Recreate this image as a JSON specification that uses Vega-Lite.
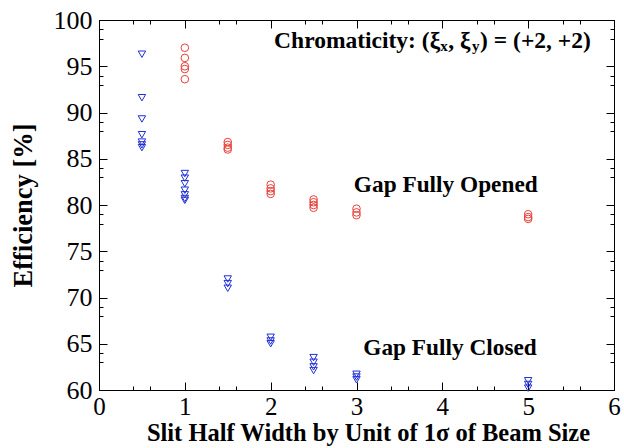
{
  "$schema": "https://vega.github.io/schema/vega-lite/v6.json",
  "width": 515,
  "height": 370,
  "autosize": "none",
  "padding": {"left": 99, "top": 20, "right": 10, "bottom": 58},
  "background": "white",
  "config": {"view": {"stroke": "black", "strokeWidth": 1}},
  "datasets": {
    "points": [
      {"series": "Gap Fully Closed", "x": 0.5, "eff": 96.3},
      {"series": "Gap Fully Closed", "x": 0.5, "eff": 91.6},
      {"series": "Gap Fully Closed", "x": 0.5, "eff": 89.3},
      {"series": "Gap Fully Closed", "x": 0.5, "eff": 87.6},
      {"series": "Gap Fully Closed", "x": 0.5, "eff": 86.8},
      {"series": "Gap Fully Closed", "x": 0.5, "eff": 86.5},
      {"series": "Gap Fully Closed", "x": 0.5, "eff": 86.2},
      {"series": "Gap Fully Closed", "x": 1, "eff": 83.4},
      {"series": "Gap Fully Closed", "x": 1, "eff": 82.9},
      {"series": "Gap Fully Closed", "x": 1, "eff": 82.3},
      {"series": "Gap Fully Closed", "x": 1, "eff": 81.6},
      {"series": "Gap Fully Closed", "x": 1, "eff": 81.1},
      {"series": "Gap Fully Closed", "x": 1, "eff": 80.7},
      {"series": "Gap Fully Closed", "x": 1, "eff": 80.5},
      {"series": "Gap Fully Closed", "x": 1.5, "eff": 72.0},
      {"series": "Gap Fully Closed", "x": 1.5, "eff": 71.5},
      {"series": "Gap Fully Closed", "x": 1.5, "eff": 71.0},
      {"series": "Gap Fully Closed", "x": 2, "eff": 65.7},
      {"series": "Gap Fully Closed", "x": 2, "eff": 65.3},
      {"series": "Gap Fully Closed", "x": 2, "eff": 65.0},
      {"series": "Gap Fully Closed", "x": 2.5, "eff": 63.5},
      {"series": "Gap Fully Closed", "x": 2.5, "eff": 63.0},
      {"series": "Gap Fully Closed", "x": 2.5, "eff": 62.5},
      {"series": "Gap Fully Closed", "x": 2.5, "eff": 62.1},
      {"series": "Gap Fully Closed", "x": 3, "eff": 61.7},
      {"series": "Gap Fully Closed", "x": 3, "eff": 61.4},
      {"series": "Gap Fully Closed", "x": 3, "eff": 61.1},
      {"series": "Gap Fully Closed", "x": 5, "eff": 61.0},
      {"series": "Gap Fully Closed", "x": 5, "eff": 60.6},
      {"series": "Gap Fully Closed", "x": 5, "eff": 60.2},
      {"series": "Gap Fully Opened", "x": 1, "eff": 97.0},
      {"series": "Gap Fully Opened", "x": 1, "eff": 95.9},
      {"series": "Gap Fully Opened", "x": 1, "eff": 95.0},
      {"series": "Gap Fully Opened", "x": 1, "eff": 94.7},
      {"series": "Gap Fully Opened", "x": 1, "eff": 93.6},
      {"series": "Gap Fully Opened", "x": 1.5, "eff": 86.8},
      {"series": "Gap Fully Opened", "x": 1.5, "eff": 86.5},
      {"series": "Gap Fully Opened", "x": 1.5, "eff": 86.2},
      {"series": "Gap Fully Opened", "x": 1.5, "eff": 86.0},
      {"series": "Gap Fully Opened", "x": 2, "eff": 82.2},
      {"series": "Gap Fully Opened", "x": 2, "eff": 81.8},
      {"series": "Gap Fully Opened", "x": 2, "eff": 81.5},
      {"series": "Gap Fully Opened", "x": 2, "eff": 81.2},
      {"series": "Gap Fully Opened", "x": 2.5, "eff": 80.6},
      {"series": "Gap Fully Opened", "x": 2.5, "eff": 80.3},
      {"series": "Gap Fully Opened", "x": 2.5, "eff": 80.0},
      {"series": "Gap Fully Opened", "x": 2.5, "eff": 79.7},
      {"series": "Gap Fully Opened", "x": 3, "eff": 79.6},
      {"series": "Gap Fully Opened", "x": 3, "eff": 79.2},
      {"series": "Gap Fully Opened", "x": 3, "eff": 78.9},
      {"series": "Gap Fully Opened", "x": 5, "eff": 79.0},
      {"series": "Gap Fully Opened", "x": 5, "eff": 78.7},
      {"series": "Gap Fully Opened", "x": 5, "eff": 78.5}
    ],
    "labels": [
      {"label": "Gap Fully Opened", "x": 4.04, "eff": 81.4},
      {"label": "Gap Fully Closed", "x": 4.09, "eff": 63.8}
    ],
    "chroma": [
      {"label": "Chromaticity: (ξ", "x": 2.04, "eff": 96.97},
      {"label": ", ξ", "x": 4.07, "eff": 96.97},
      {"label": ") = (+2, +2)", "x": 4.44, "eff": 96.97}
    ],
    "subs": [
      {"label": "x", "x": 3.975, "eff": 96.6},
      {"label": "y", "x": 4.345, "eff": 96.6}
    ]
  },
  "resolve": {"axis": {"x": "independent", "y": "independent"}},
  "layer": [
    {
      "data": {"name": "points"},
      "transform": [{"filter": "datum.series === 'Gap Fully Closed'"}],
      "mark": {"type": "point", "shape": "triangle-down", "filled": false, "color": "#1f2fd6", "strokeWidth": 1, "size": 55, "opacity": 1},
      "encoding": {
        "x": {
          "field": "x", "type": "quantitative",
          "scale": {"domain": [0, 6], "nice": false, "zero": false},
          "axis": {
            "orient": "bottom", "offset": 0, "grid": false,
            "values": [0, 0.4, 0.6, 1, 1.4, 1.6, 2, 2.4, 2.6, 3, 3.4, 3.6, 4, 4.4, 4.6, 5, 5.4, 5.6, 6],
            "format": ".0f",
            "labelExpr": "datum.value % 1 === 0 ? datum.label : ''",
            "tickSize": {"condition": {"test": "datum.value % 1 === 0", "value": -8}, "value": -4},
            "tickColor": "black", "domainColor": "black",
            "labelFont": "Liberation Serif", "labelFontSize": 25, "labelColor": "black", "labelPadding": 12,
            "labelFlush": false,
            "title": "Slit Half Width by Unit of 1σ of Beam Size",
            "titleFont": "Liberation Serif", "titleFontSize": 24.5, "titleFontWeight": "bold", "titleColor": "black", "titlePadding": 2,
            "titleX": 269, "titleAlign": "center"
          }
        },
        "y": {
          "field": "eff", "type": "quantitative",
          "scale": {"domain": [60, 100], "nice": false, "zero": false},
          "axis": {
            "orient": "left", "offset": 0, "grid": false,
            "values": [60, 63, 64, 65, 68, 69, 70, 73, 74, 75, 78, 79, 80, 83, 84, 85, 88, 89, 90, 93, 94, 95, 98, 99, 100],
            "format": ".0f",
            "labelExpr": "datum.value % 5 === 0 ? datum.label : ''",
            "tickSize": {"condition": {"test": "datum.value % 5 === 0", "value": -8}, "value": -4},
            "tickColor": "black", "domainColor": "black",
            "labelFont": "Liberation Serif", "labelFontSize": 26, "labelColor": "black", "labelPadding": 15,
            "labelFlush": false,
            "title": "Efficiency [%]",
            "titleFont": "Liberation Serif", "titleFontSize": 26.5, "titleFontWeight": "bold", "titleColor": "black", "titlePadding": 16
          }
        }
      }
    },
    {
      "data": {"name": "points"},
      "transform": [{"filter": "datum.series === 'Gap Fully Opened'"}],
      "mark": {"type": "point", "shape": "circle", "filled": false, "color": "#e8413c", "strokeWidth": 1, "size": 58, "opacity": 1},
      "encoding": {
        "x": {
          "field": "x", "type": "quantitative",
          "axis": {
            "orient": "top", "offset": 0, "grid": false, "labels": false, "title": null,
            "values": [0, 0.4, 0.6, 1, 1.4, 1.6, 2, 2.4, 2.6, 3, 3.4, 3.6, 4, 4.4, 4.6, 5, 5.4, 5.6, 6],
            "tickSize": {"condition": {"test": "datum.value % 1 === 0", "value": -8}, "value": -4},
            "tickColor": "black", "domainColor": "black"
          }
        },
        "y": {
          "field": "eff", "type": "quantitative",
          "axis": {
            "orient": "right", "offset": 0, "grid": false, "labels": false, "title": null,
            "values": [60, 63, 64, 65, 68, 69, 70, 73, 74, 75, 78, 79, 80, 83, 84, 85, 88, 89, 90, 93, 94, 95, 98, 99, 100],
            "tickSize": {"condition": {"test": "datum.value % 5 === 0", "value": -8}, "value": -4},
            "tickColor": "black", "domainColor": "black"
          }
        }
      }
    },
    {
      "data": {"name": "labels"},
      "mark": {"type": "text", "font": "Liberation Serif", "fontSize": 23.3, "fontWeight": "bold", "color": "black", "align": "center", "baseline": "alphabetic"},
      "encoding": {
        "x": {"field": "x", "type": "quantitative", "axis": null},
        "y": {"field": "eff", "type": "quantitative", "axis": null},
        "text": {"field": "label"}
      }
    },
    {
      "data": {"name": "chroma"},
      "mark": {"type": "text", "font": "Liberation Serif", "fontSize": 23.5, "fontWeight": "bold", "color": "black", "align": "left", "baseline": "alphabetic"},
      "encoding": {
        "x": {"field": "x", "type": "quantitative", "axis": null},
        "y": {"field": "eff", "type": "quantitative", "axis": null},
        "text": {"field": "label"}
      }
    },
    {
      "data": {"name": "subs"},
      "mark": {"type": "text", "font": "Liberation Serif", "fontSize": 15, "fontWeight": "bold", "color": "black", "align": "left", "baseline": "alphabetic"},
      "encoding": {
        "x": {"field": "x", "type": "quantitative", "axis": null},
        "y": {"field": "eff", "type": "quantitative", "axis": null},
        "text": {"field": "label"}
      }
    }
  ]
}
